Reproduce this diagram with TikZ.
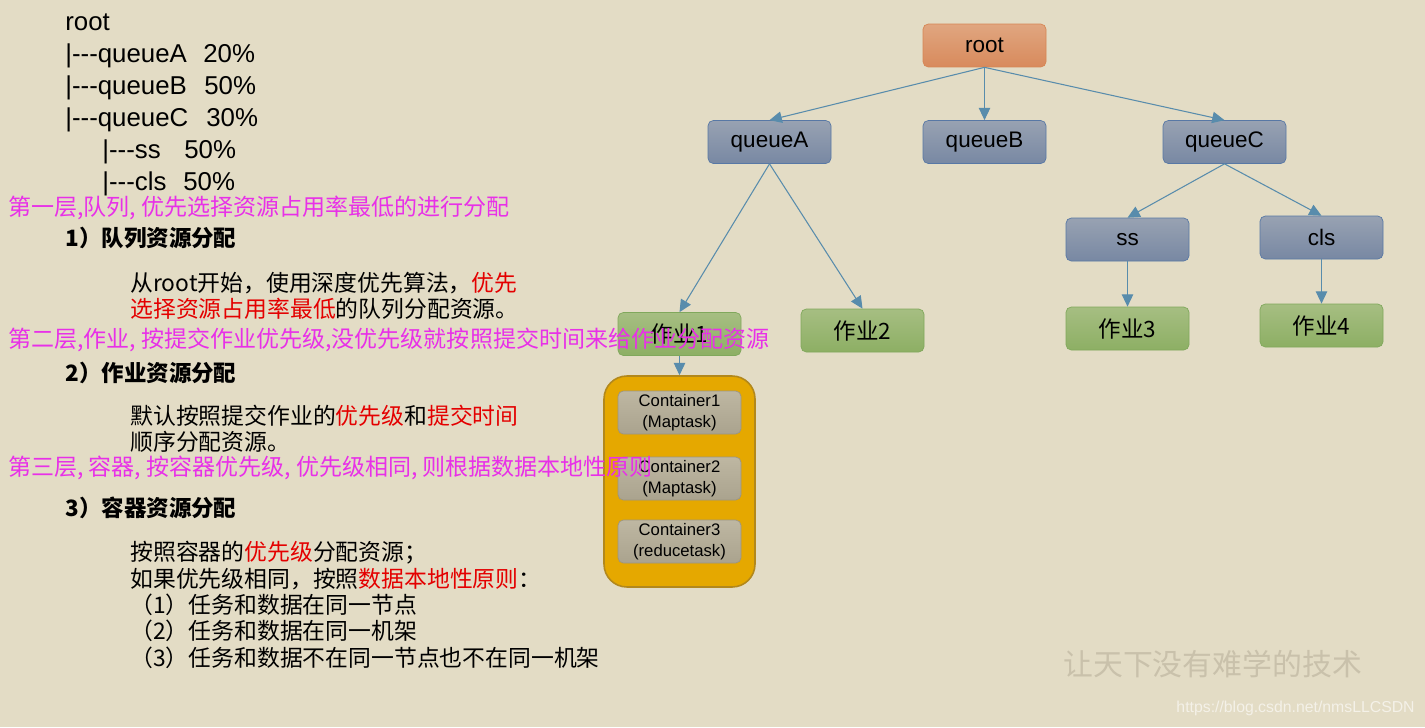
\documentclass[tikz,border=0pt]{standalone}
\usepackage{fontspec}
\usepackage{xcolor}
\usepackage{tikz}
\usetikzlibrary{arrows.meta}
\usetikzlibrary{positioning}

\setmainfont{Liberation Sans}
\newfontfamily\cjk{Noto Sans CJK SC}

\definecolor{paper}{RGB}{227,220,197}
\definecolor{linkblue}{RGB}{88,140,172}
\definecolor{hint}{RGB}{232,48,232}
\definecolor{hot}{RGB}{228,0,0}
\definecolor{pool}{RGB}{229,168,0}
\newcommand{\hl}[1]{\textcolor{hot}{#1}}
\newcommand{\lvl}{|-{}-{}-}

\begin{document}
\begin{tikzpicture}[x=0.02cm, y=-0.02cm,
	box/.style={rectangle, rounded corners=3pt, minimum width=2.46cm, minimum height=0.86cm, inner sep=0pt, font=\fontsize{12.8pt}{15pt}\selectfont},
	rootbox/.style={box, top color={rgb,255:red,224;green,166;blue,128}, bottom color={rgb,255:red,216;green,138;blue,92}, draw={rgb,255:red,214;green,134;blue,84}},
	qbox/.style={box, top color={rgb,255:red,152;green,162;blue,178}, bottom color={rgb,255:red,120;green,136;blue,163}, draw={rgb,255:red,88;green,120;blue,165}},
	jobbox/.style={box, top color={rgb,255:red,166;green,190;blue,130}, bottom color={rgb,255:red,141;green,175;blue,100}, draw={rgb,255:red,128;green,168;blue,92}, font=\cjk\fontsize{12.8pt}{15pt}\selectfont},
	contbox/.style={box, top color={rgb,255:red,190;green,183;blue,162}, bottom color={rgb,255:red,170;green,163;blue,142}, draw={rgb,255:red,156;green,149;blue,128}, align=center, font=\fontsize{9.5pt}{11.8pt}\selectfont},
	link/.style={draw=linkblue, line width=0.6pt, -{Triangle[length=7pt, width=6.5pt]}},
	treetxt/.style={anchor=base west, inner sep=0pt, font=\fontsize{14.7pt}{17pt}\selectfont},
	hinttxt/.style={anchor=west, inner sep=0pt, text=hint, font=\cjk\fontsize{13.1pt}{16pt}\selectfont},
	headtxt/.style={anchor=west, inner sep=0pt, font=\cjk\bfseries\fontsize{12.8pt}{15pt}\selectfont},
	bodytxt/.style={anchor=west, inner sep=0pt, align=left, font=\cjk\fontsize{13pt}{15pt}\selectfont}]

\fill[paper] (0,0) rectangle (1425,727);
\useasboundingbox (0,0) rectangle (1425,727);

% queue tree
\node[rootbox] (root) at (984.5,45.5) {root};
\node[qbox] (qA) at (769.5,142) {queueA};
\node[qbox] (qB) at (984.5,142) {queueB};
\node[qbox] (qC) at (1224.5,142) {queueC};
\node[qbox] (ss) at (1127.5,239.5) {ss};
\node[qbox] (cls) at (1321.5,237.5) {cls};
\node[jobbox] (j1) at (679.5,334) {作业1};
\node[jobbox] (j2) at (862.5,330.5) {作业2};
\node[jobbox] (j3) at (1127.5,328.5) {作业3};
\node[jobbox] (j4) at (1321.5,325.5) {作业4};

% containers of job 1
\node[rectangle, rounded corners=13pt, minimum width=3.02cm, minimum height=4.22cm, fill=pool, draw={rgb,255:red,178;green,136;blue,28}, line width=0.9pt] (pl) at (679.5,481.5) {};
\node[contbox] (c1) at (679.5,412.5) {Container1\\(Maptask)};
\node[contbox] (c2) at (679.5,478.5) {Container2\\(Maptask)};
\node[contbox] (c3) at (679.5,541.5) {Container3\\(reducetask)};

% Draw arrows
\draw[link] (root.south) -- (qA.north);
\draw[link] (root.south) -- (qB.north);
\draw[link] (root.south) -- (qC.north);
\draw[link] (qA.south) -- (j1.north);
\draw[link] (qA.south) -- (j2.north);
\draw[link] (qC.south) -- (ss.north);
\draw[link] (qC.south) -- (cls.north);
\draw[link] (ss.south) -- (j3.north);
\draw[link] (cls.south) -- (j4.north);
\draw[link] (j1.south) -- (pl.north);

% queue listing
\node[treetxt] (l0) at (65,30) {root};
\node[treetxt] (l1) at (65,62) {\lvl queueA};
\node[treetxt] (l2) at (65,94) {\lvl queueB};
\node[treetxt] (l3) at (65,126) {\lvl queueC};
\node[treetxt] (l4) at (102,158) {\lvl ss};
\node[treetxt] (l5) at (102,190) {\lvl cls};
\node[treetxt] (r1) at (203,62) {20\%};
\node[treetxt] (r2) at (204,94) {50\%};
\node[treetxt] (r3) at (206,126) {30\%};
\node[treetxt] (r4) at (184,158) {50\%};
\node[treetxt] (r5) at (183,190) {50\%};

% three levels
\node[headtxt] (h1) at (65,238) {1）队列资源分配};
\node[bodytxt] (p1) at (130,296) {从root开始，使用深度优先算法，\hl{优先}\\\hl{选择资源占用率最低}的队列分配资源。};
\node[headtxt] (h2) at (65,373) {2）作业资源分配};
\node[bodytxt] (p2) at (130,429) {默认按照提交作业的\hl{优先级}和\hl{提交时间}\\顺序分配资源。};
\node[headtxt] (h3) at (65,508) {3）容器资源分配};
\node[bodytxt] (p3) at (130,605) {按照容器的\hl{优先级}分配资源；\\如果优先级相同，按照\hl{数据本地性原则}：\\（1）任务和数据在同一节点\\（2）任务和数据在同一机架\\（3）任务和数据不在同一节点也不在同一机架};

% notes on top
\node[hinttxt] (n1) at (8,208) {第一层,队列, 优先选择资源占用率最低的进行分配};
\node[hinttxt] (n2) at (8,340) {第二层,作业, 按提交作业优先级,没优先级就按照提交时间来给作业分配资源};
\node[hinttxt] (n3) at (8,468) {第三层, 容器, 按容器优先级, 优先级相同, 则根据数据本地性原则};

% watermark
\node[anchor=west, inner sep=0pt, text={rgb,255:red,201;green,193;blue,171}, font=\cjk\fontsize{17pt}{20pt}\selectfont] (wm) at (1063,664) {让天下没有难学的技术};
\node[anchor=east, inner sep=0pt, text={rgb,255:red,244;green,241;blue,232}, font=\fontsize{9pt}{11pt}\selectfont] (url) at (1415,708) {https://blog.csdn.net/nmsLLCSDN};
\end{tikzpicture}
\end{document}
